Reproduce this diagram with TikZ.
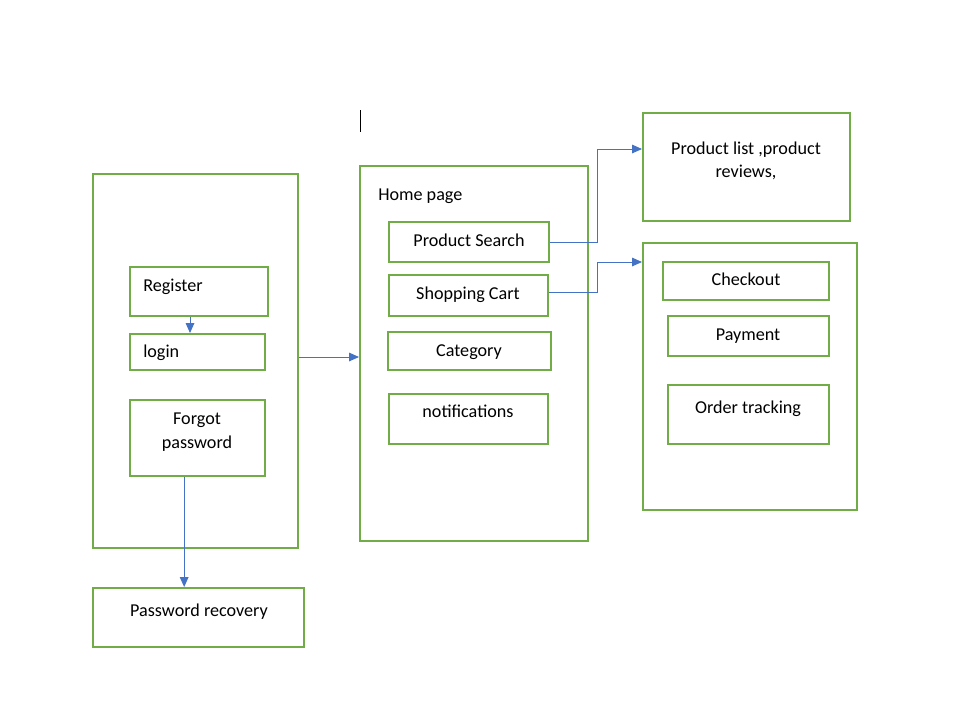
\documentclass[tikz,border=0pt]{standalone}
\usepackage{fontspec}
\setmainfont{Carlito}
\usetikzlibrary{arrows.meta}
\definecolor{boxgreen}{HTML}{70AD47}
\definecolor{flowblue}{HTML}{4472C4}

\begin{document}
\begin{tikzpicture}[x=0.75pt,y=-0.75pt,
			green box/.style={draw=boxgreen,line width=1.5pt,inner sep=0pt},
			boxsize/.style 2 args={minimum width=#1*0.75pt,minimum height=#2*0.75pt},
			box text/.style={font=\fontsize{13.6pt}{18pt}\selectfont,inner sep=0pt,align=center},
			flow/.style={draw=flowblue,line width=0.75pt,-{Triangle[length=7.5pt,width=6.5pt]}}]
			\useasboundingbox (0,0) rectangle (980,722);
			% text cursor
			\draw[line width=0.75pt] (360,110) -- (360,132);
			% login column
			\node[green box, boxsize={205}{374}] (lbox) at (195.5,361) {};
			\node[green box, boxsize={138}{49}] (reg) at (199,291.5) {};
			\node[box text, anchor=base west] (reg-t) at (143,291) {Register};
			\node[green box, boxsize={135}{36}] (login) at (197.5,352) {};
			\node[box text, anchor=base west] (login-t) at (143,357) {login};
			\node[green box, boxsize={135}{76}] (forgot) at (197.5,438) {};
			\node[box text, anchor=north] (forgot-t) at (197,412.3) {Forgot\\password};
			\node[green box, boxsize={211}{59}] (prec) at (198.5,617.5) {};
			\node[box text, anchor=base] (prec-t) at (199,616) {Password recovery};
			% home page
			\node[green box, boxsize={228}{375}] (home) at (474,353.5) {};
			\node[box text, anchor=base west] (home-t) at (378,200) {Home page};
			\node[green box, boxsize={160}{40}] (psearch) at (469,242) {};
			\node[box text, anchor=base] (psearch-t) at (469,246) {Product Search};
			\node[green box, boxsize={159}{41}] (cart) at (468.5,295.5) {};
			\node[box text, anchor=base] (cart-t) at (468,299) {Shopping Cart};
			\node[green box, boxsize={163}{38}] (cat) at (469.5,351) {};
			\node[box text, anchor=base] (cat-t) at (469,356) {Category};
			\node[green box, boxsize={159}{50}] (notif) at (468.5,419) {};
			\node[box text, anchor=base] (notif-t) at (468,417) {notifications};
			% products and orders
			\node[green box, boxsize={207}{108}] (plist) at (746.5,167) {};
			\node[box text, anchor=north, font=\fontsize{13.6pt}{17.25pt}\selectfont] (plist-t) at (746,141.3) {Product list ,product\\reviews,};
			\node[green box, boxsize={214}{267}] (rbox) at (750,376.5) {};
			\node[green box, boxsize={166}{38}] (checkout) at (746,281) {};
			\node[box text, anchor=base] (checkout-t) at (746,285) {Checkout};
			\node[green box, boxsize={161}{40}] (pay) at (748.5,336) {};
			\node[box text, anchor=base] (pay-t) at (748,340) {Payment};
			\node[green box, boxsize={161}{59}] (track) at (748.5,414.5) {};
			\node[box text, anchor=base] (track-t) at (748,413) {Order tracking};
			% connectors
			\draw[flow] ([xshift=-6.75pt]reg.south) -- ([xshift=-6.75pt]reg.south |- login.north);
			\draw[flow] ([xshift=-10pt]forgot.south) -- ([xshift=-10pt]forgot.south |- prec.north);
			\draw[flow] ([yshift=3pt]lbox.east) -- ([yshift=3pt]lbox.east -| home.west);
			\draw[flow] (psearch.east) -- ++(47,0) |- ([yshift=13.5pt]plist.west);
			\draw[flow] ([yshift=2.5pt]cart.east) -- ++(48,0) |- ([yshift=-15pt]rbox.north west);
		\end{tikzpicture}
\end{document}
